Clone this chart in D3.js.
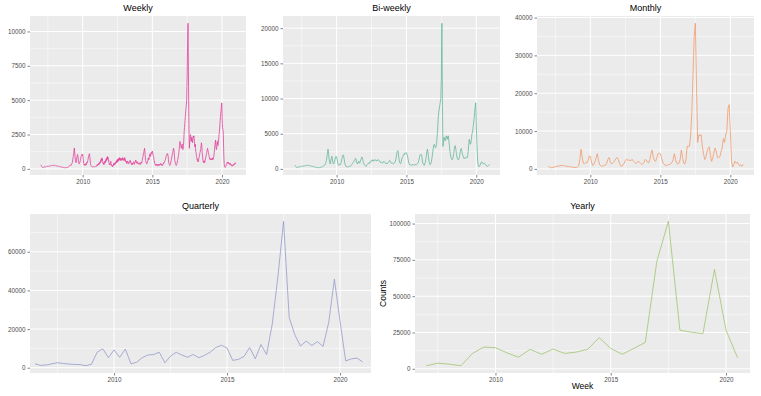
<!DOCTYPE html>
<html><head><meta charset="utf-8">
<script src="https://cdn.jsdelivr.net/npm/d3@7/dist/d3.min.js"></script>
<style>
body{margin:0;background:#fff}
svg{display:block}
text{font-family:"Liberation Sans",Arial,sans-serif}
</style>
</head><body>
<svg id="chart" width="761" height="396"></svg>
<script>
// ---------------- DATA ----------------
const firstYear = 2007;

// Weekly counts, one row per year (2007 ... 2020)
const weeklyByYear = [
 [300,260,220,180,150,120,110,100,90,100,110,120,130,140,150,140,130,150,160,170,180,170,160,180,190,200,210,190,180,200,220,210,200,190,210,230,220,240,250,230,220,240,260,250,240,260,270,250,240,260,280,270],
 [260,250,240,230,250,240,220,210,200,220,210,190,180,200,190,170,160,180,170,150,140,160,150,130,120,140,130,120,110,130,120,100,90,110,100,90,80,100,90,80,90,100,110,100,90,100,120,110,100,120,150,140],
 [150,180,200,220,250,230,260,300,280,260,300,350,400,450,500,700,800,900,1000,1200,1400,1520,1300,1000,800,600,500,450,500,650,800,900,1000,1050,950,800,600,450,400,350,400,450,500,600,700,800,900,950,1000,1050,1000,950],
 [1050,900,700,500,400,300,250,300,350,300,250,300,400,350,300,400,500,450,500,600,700,800,900,1000,1050,1100,1000,800,600,400,300,250,200,180,160,150,140,150,130,140,150,160,150,140,160,170,180,170,160,180,200,190],
 [200,260,220,320,260,340,300,380,320,420,350,450,400,520,450,600,520,700,600,800,650,750,550,500,400,450,350,300,380,450,400,550,450,600,500,700,600,750,650,850,700,900,750,800,600,650,450,400,300,350,280,400],
 [450,550,380,350,250,280,180,150,220,260,200,320,380,280,420,340,300,450,380,420,520,450,560,430,620,550,680,520,720,600,650,780,620,700,820,680,760,620,600,740,680,760,620,640,720,820,700,760,620,640,720,600],
 [720,820,680,700,560,500,580,460,480,380,470,520,580,460,480,380,360,430,460,540,520,620,500,540,420,430,330,300,380,420,330,320,430,460,520,420,430,330,420,450,540,520,640,520,540,430,400,480,520,440,420,350],
 [400,350,400,450,400,350,300,350,400,450,500,450,400,500,600,700,800,900,1000,1100,1200,1300,1400,1500,1300,1000,800,600,500,450,400,350,400,450,500,600,700,800,700,650,800,900,1000,1100,1000,900,1000,1100,1200,1150,1100,1250],
 [1300,1200,1100,1000,900,800,700,600,500,400,350,300,250,300,350,300,250,300,350,300,250,200,250,300,350,300,250,300,350,300,350,400,350,300,250,300,350,300,250,300,350,400,450,400,450,500,550,600,650,700,800,900],
 [950,1000,1050,1100,1050,1100,1000,900,700,500,400,350,300,250,300,350,400,500,600,700,800,900,1000,1100,1200,1300,1400,1500,1450,1300,1000,800,600,500,400,350,300,250,300,350,400,500,600,700,800,900,1000,1200,1400,1600,1800,2000],
 [1900,1800,1700,1600,1500,1600,1700,1800,1600,1500,1400,1500,1700,2000,2400,2800,3000,3300,3500,3800,4000,4300,4500,4700,5000,6000,7000,8500,9500,10600,8500,6000,4000,2500,1500,1800,2000,2300,2500,2400,2200,2000,2100,2300,2200,2000,1900,2100,2300,2400,2300,2400],
 [2200,2000,1800,1600,1800,1500,1300,1200,1000,900,800,700,600,700,600,500,600,700,800,900,1000,1100,1200,1300,1400,1500,1700,1900,1800,1500,1200,1000,800,600,500,450,500,600,500,450,500,600,700,800,900,1000,1100,1200,1300,1400,1500,1400],
 [1300,1200,1100,1000,900,800,700,750,700,650,700,750,700,650,700,750,800,700,650,700,800,900,1000,1200,1400,1600,1800,2000,2100,1800,1500,1400,1500,1700,1900,2000,1800,1700,1900,2100,2300,2500,2700,2900,3200,3500,3800,4000,4200,4400,4600,4800],
 [4200,3300,3000,2900,2800,2400,1500,800,400,200,150,120,100,150,200,250,300,350,400,450,500,450,400,500,450,400,350,400,350,300,350,400,350,300,250,300,250,200,250,200,250,300,250,300,350,300,350,400,350,400,450,400]
];

// Bi-weekly counts, one row per year
const biweeklyByYear = [
 [550,450,350,250,200,200,220,250,280,300,320,340,360,380,350,380,400,420,440,420,460,480,500,480,500,520],
 [500,480,460,440,420,400,380,360,340,320,300,280,260,240,220,200,200,180,170,160,180,200,220,250,280,300],
 [320,380,450,500,550,700,900,1200,1700,2300,2800,2200,1400,900,700,1000,1500,1800,1500,900,700,800,1000,1400,1700,1800],
 [1700,1300,900,600,500,600,700,600,800,1100,1500,1800,2000,1900,1400,900,600,400,300,300,280,300,320,300,350,380],
 [400,500,600,700,800,900,1000,1200,1300,1500,1400,1000,800,700,900,1100,900,800,1100,1300,1500,1700,1600,1200,900,700],
 [600,500,400,350,500,600,700,800,700,900,1000,900,1100,1200,1100,1300,1200,1100,1300,1200,1250,1300,1200,1100,1250,1300],
 [1300,1200,1100,950,900,1000,900,800,850,1000,1100,1000,900,800,700,800,700,800,900,1000,1100,1200,1000,900,800,900],
 [800,750,700,800,900,1000,1300,1700,2200,2500,2600,2200,1500,1000,800,750,900,1300,1600,1700,1900,2100,2000,2200,2300,2200],
 [2300,2100,1800,1400,1000,700,600,550,600,550,500,600,550,600,500,550,650,600,550,600,700,800,900,1200,1500,1900],
 [2000,2100,2000,1600,1000,700,600,500,700,900,1300,1800,2400,2800,2500,1800,1100,800,600,700,900,1300,1800,2400,3000,3400],
 [3500,3200,3000,3100,3500,4500,5500,7000,8000,8500,9000,9500,10000,13000,20700,9000,3200,3800,4500,4200,4000,4300,4700,4500,4200,4600],
 [4700,4000,3300,2500,2000,1600,1400,1300,1400,1700,2200,2800,3200,3300,2800,2200,1700,1400,1300,1300,1500,1900,2400,2800,2900,2600],
 [2200,1900,1700,1500,1500,1600,1500,1600,1700,1600,1800,2500,3500,4200,3800,3500,3700,4200,5000,5200,5800,6500,7200,8000,8800,9400],
 [6500,4000,2000,800,400,300,350,500,700,900,1000,950,800,700,750,800,700,650,550,450,400,380,450,500,550,600]
];

// Monthly counts, one row per year
const monthlyByYear = [
 [700,500,350,300,400,500,600,650,700,750,850,900],
 [950,850,800,750,700,650,600,550,500,450,400,350],
 [400,500,800,2500,5200,3000,1500,1400,1700,1600,2200,3400],
 [3300,1800,900,1200,2000,3000,4000,2200,1100,800,700,800],
 [900,1000,1500,2500,3000,2000,1400,1500,1800,2200,2800,3000],
 [2500,1500,800,700,1000,1500,2200,2600,2300,2400,2200,2300],
 [2500,2000,1700,1500,1600,2000,1800,1500,1200,1300,1700,2500],
 [2300,1800,1600,2500,4000,5000,3000,2200,2000,3000,4000,4200],
 [4000,3000,1800,1300,1000,900,1000,1100,1200,1400,1700,2500],
 [4000,2500,1500,1300,1500,2500,5000,3000,1500,1300,2500,6000],
 [6000,6000,9000,15000,25000,35000,38500,22000,7000,9000,8800,9000],
 [6000,4000,2500,3000,4500,5500,5800,3500,2000,3000,4500,5500],
 [4500,3000,3000,3200,4500,5500,8000,7000,9000,10000,16000,17000],
 [10000,2000,500,1200,2000,1500,1800,1300,800,1000,700,1200]
];

// Quarterly counts, starting 2006 Q3
const quarterlyStart = 2006.5;
const quarterlyCounts = [2000,1200,1400,2000,2600,2200,1900,1700,1600,1000,1800,8000,9800,5200,9200,5400,9600,2000,2800,5200,6600,6800,8000,2600,6000,8000,6600,5400,6800,5200,6400,8000,10400,11600,10200,3800,4300,5800,10400,4600,12000,6800,22600,47000,75800,26000,17000,11200,13800,11500,13500,11000,23500,45800,24000,3500,4600,5000,3000];

// "Yearly" counts (points every half year), starting 2007
const yearlyStart = 2007.0;
const yearlyCounts = [2100,3900,3200,2100,10600,15000,14500,11000,8000,13400,10000,13600,10600,11500,13400,21500,14000,10000,14000,18200,74000,101600,26600,25200,24200,68400,26600,7600];

const titles = ["Weekly","Bi-weekly","Monthly","Quarterly","Yearly"];
const xTicks = [2010, 2015, 2020];
const yTicksWeekly = [0,2500,5000,7500,10000];
const yTicksBiweekly = [0,5000,10000,15000,20000];
const yTicksMonthly = [0,10000,20000,30000,40000];
const yTicksQuarterly = [0,20000,40000,60000];
const yTicksYearly = [0,25000,50000,75000,100000];
const xLabel = "Week";
const yLabel = "Counts";

// ---------------- BUILD SERIES ----------------
function fromRows(rows){
  const out = [];
  rows.forEach((row, yi) => row.forEach((v, i) => out.push({t: firstYear + yi + i/row.length, v})));
  return out;
}
function fromStep(start, step, vals){ return vals.map((v,i)=>({t:start+i*step, v})); }

const series = [
  fromRows(weeklyByYear),
  fromRows(biweeklyByYear),
  fromRows(monthlyByYear),
  fromStep(quarterlyStart, 0.25, quarterlyCounts),
  fromStep(yearlyStart, 0.5, yearlyCounts)
];

// ---------------- LAYOUT ----------------
const panels = [
  {left:30,  right:246, top:16,  bottom:175, xdom:[2006.22,2021.72], yticks:yTicksWeekly,    color:"#e2409a", sw:0.8},
  {left:283, right:500, top:16,  bottom:175, xdom:[2006.16,2021.70], yticks:yTicksBiweekly,  color:"#5cb493", sw:0.75},
  {left:537, right:754, top:16,  bottom:175, xdom:[2006.19,2021.69], yticks:yTicksMonthly,   color:"#f19563", sw:0.75},
  {left:30,  right:371, top:214, bottom:373, xdom:[2006.28,2021.37], yticks:yTicksQuarterly, color:"#9096c8", sw:0.75},
  {left:415, right:750, top:214, bottom:373, xdom:[2006.51,2021.04], yticks:yTicksYearly,    color:"#9cc268", sw:0.75}
];

const svg = d3.select("#chart");
svg.append("rect").attr("width",761).attr("height",396).attr("fill","#ffffff");

function minorsOf(ticks, dom){
  const step = ticks[1]-ticks[0];
  const ext = [ticks[0]-step, ...ticks, ticks[ticks.length-1]+step];
  const m = [];
  for(let i=0;i<ext.length-1;i++){ const v=(ext[i]+ext[i+1])/2; if(v>dom[0]&&v<dom[1]) m.push(v); }
  return m;
}

panels.forEach((p, k) => {
  const data = series[k];
  const [mn, mx] = d3.extent(data, d=>d.v);
  const pad = (mx-mn)*0.05;
  const x = d3.scaleLinear().domain(p.xdom).range([p.left, p.right]);
  const y = d3.scaleLinear().domain([mn-pad, mx+pad]).range([p.bottom, p.top]);
  const g = svg.append("g");

  g.append("rect").attr("x",p.left).attr("y",p.top)
    .attr("width",p.right-p.left).attr("height",p.bottom-p.top).attr("fill","#EBEBEB");

  const xMinor = minorsOf(xTicks, x.domain());
  const yMinor = minorsOf(p.yticks, y.domain());
  g.selectAll(".xmin").data(xMinor).join("line")
    .attr("x1",d=>x(d)).attr("x2",d=>x(d)).attr("y1",p.top).attr("y2",p.bottom)
    .attr("stroke","#ffffff").attr("stroke-width",0.5);
  g.selectAll(".ymin").data(yMinor).join("line")
    .attr("y1",d=>y(d)).attr("y2",d=>y(d)).attr("x1",p.left).attr("x2",p.right)
    .attr("stroke","#ffffff").attr("stroke-width",0.5);
  g.selectAll(".xmaj").data(xTicks).join("line")
    .attr("x1",d=>x(d)).attr("x2",d=>x(d)).attr("y1",p.top).attr("y2",p.bottom)
    .attr("stroke","#ffffff").attr("stroke-width",1);
  g.selectAll(".ymaj").data(p.yticks).join("line")
    .attr("y1",d=>y(d)).attr("y2",d=>y(d)).attr("x1",p.left).attr("x2",p.right)
    .attr("stroke","#ffffff").attr("stroke-width",1);

  g.append("path").datum(data)
    .attr("fill","none").attr("stroke",p.color).attr("stroke-width",p.sw)
    .attr("stroke-linejoin","round")
    .attr("d", d3.line().x(d=>x(d.t)).y(d=>y(d.v)));

  const xa = g.append("g").attr("transform",`translate(0,${p.bottom})`)
    .call(d3.axisBottom(x).tickValues(xTicks).tickFormat(d3.format("d")).tickSize(2.5).tickPadding(2));
  const ya = g.append("g").attr("transform",`translate(${p.left},0)`)
    .call(d3.axisLeft(y).tickValues(p.yticks).tickFormat(d3.format("d")).tickSize(2.5).tickPadding(2));
  [xa, ya].forEach(a => {
    a.select(".domain").remove();
    a.selectAll(".tick line").attr("stroke","#333333").attr("stroke-width",0.6);
    a.selectAll(".tick text").attr("fill","#4D4D4D").attr("font-size","6.3px")
      .attr("font-family",'"Liberation Sans",Arial,sans-serif');
  });

  g.append("text").attr("x",(p.left+p.right)/2).attr("y",p.top-5)
    .attr("text-anchor","middle").attr("font-size","9px").attr("fill","#000")
    .text(titles[k]);
});

// axis titles for the yearly panel
const py = panels[4];
svg.append("text").attr("x",(py.left+py.right)/2).attr("y",389)
  .attr("text-anchor","middle").attr("font-size","8.5px").attr("fill","#000").text(xLabel);
svg.append("text").attr("transform",`translate(386,${(py.top+py.bottom)/2}) rotate(-90)`)
  .attr("text-anchor","middle").attr("font-size","8.5px").attr("fill","#000").text(yLabel);
</script>
</body></html>
